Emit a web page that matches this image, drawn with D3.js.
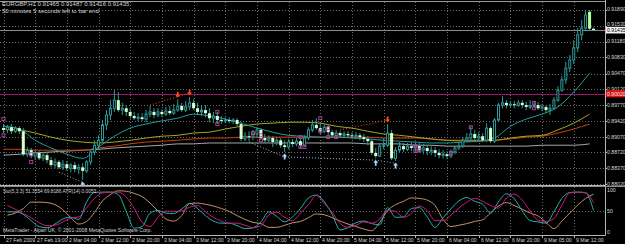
<!DOCTYPE html>
<html><head><meta charset="utf-8">
<script src="https://cdn.jsdelivr.net/npm/d3@7/dist/d3.min.js"></script>
<style>html,body{margin:0;padding:0;background:#000;overflow:hidden}svg{display:block}</style>
</head><body>
<svg id="c" width="625" height="244"></svg>
<script>
// ---------------- DATA ----------------
const symbolTitle = "EURGBP,H1";
const headerQuote = ["0.91465", "0.91487", "0.91416", "0.91435"];
const timerText = "50 minutes 5 seconds left to bar end";
const stochTitle = "Sto(5,3,3) 51.3554 69.8186  ATR(14) 0.0053";
const copyrightText = "MetaTrader - Alpari UK, \u00A9 2001-2008 MetaQuotes Software Corp.";

const open = [0.8926,0.8922,0.8928,0.8919,0.8926,0.8919,0.8868,0.8877,0.8864,0.8871,
0.8859,0.8866,0.8855,0.8844,0.8851,0.8839,0.8846,0.8837,0.8844,0.8835,
0.8839,0.8831,0.8851,0.8873,0.8888,0.8899,0.8933,0.8955,0.8970,0.8988,
0.8966,0.8970,0.8962,0.8953,0.8948,0.8950,0.8946,0.8957,0.8962,0.8955,
0.8962,0.8957,0.8964,0.8959,0.8966,0.8975,0.8966,0.8973,0.8982,0.8970,
0.8962,0.8966,0.8959,0.8948,0.8953,0.8944,0.8942,0.8944,0.8942,0.8944,
0.8935,0.8902,0.8908,0.8906,0.8913,0.8922,0.8904,0.8899,0.8904,0.8895,
0.8899,0.8888,0.8884,0.8895,0.8891,0.8897,0.8888,0.8904,0.8922,0.8933,
0.8926,0.8919,0.8928,0.8917,0.8910,0.8915,0.8910,0.8913,0.8910,0.8908,
0.8910,0.8906,0.8902,0.8897,0.8871,0.8864,0.8886,0.8888,0.8915,0.8859,
0.8877,0.8886,0.8879,0.8886,0.8882,0.8886,0.8877,0.8882,0.8875,0.8877,
0.8871,0.8866,0.8868,0.8864,0.8873,0.8882,0.8886,0.8899,0.8904,0.8913,
0.8904,0.8908,0.8899,0.8926,0.8897,0.8944,0.8977,0.8982,0.8977,0.8979,
0.8977,0.8982,0.8977,0.8973,0.8975,0.8977,0.8970,0.8973,0.8966,0.8970,
0.8988,0.9010,0.9033,0.9059,0.9077,0.9104,0.9133,0.9148,0.9184,0.91465];
const high = [0.8935,0.8933,0.8935,0.8930,0.8930,0.8926,0.8884,0.8882,0.8877,0.8875,
0.8873,0.8871,0.8862,0.8859,0.8855,0.8855,0.8853,0.8848,0.8851,0.8846,
0.8848,0.8855,0.8877,0.8899,0.8910,0.8944,0.8966,0.8988,0.9010,0.9006,
0.8982,0.8977,0.8970,0.8962,0.8959,0.8959,0.8966,0.8975,0.8970,0.8970,
0.8968,0.8973,0.8975,0.8979,0.8990,0.8982,0.8986,0.8995,0.8990,0.8982,
0.8977,0.8977,0.8970,0.8962,0.8962,0.8953,0.8950,0.8950,0.8948,0.8948,
0.8939,0.8917,0.8919,0.8922,0.8928,0.8926,0.8913,0.8910,0.8908,0.8906,
0.8904,0.8899,0.8902,0.8902,0.8904,0.8902,0.8910,0.8928,0.8944,0.8948,
0.8939,0.8935,0.8933,0.8922,0.8922,0.8919,0.8919,0.8919,0.8917,0.8917,
0.8915,0.8913,0.8908,0.8902,0.8882,0.8893,0.8904,0.8935,0.8922,0.8884,
0.8895,0.8893,0.8893,0.8895,0.8895,0.8893,0.8891,0.8888,0.8886,0.8884,
0.8879,0.8877,0.8875,0.8879,0.8886,0.8895,0.8906,0.8915,0.8930,0.8922,
0.8917,0.8915,0.8937,0.8930,0.8948,0.8982,0.8997,0.8988,0.8986,0.8986,
0.8988,0.8988,0.8984,0.8988,0.8986,0.8984,0.8979,0.8977,0.8979,0.8995,
0.9019,0.9041,0.9073,0.9088,0.9121,0.9148,0.9166,0.9188,0.9188,0.91487];
const low = [0.8915,0.8915,0.8913,0.8915,0.8913,0.8864,0.8862,0.8859,0.8855,0.8855,
0.8853,0.8848,0.8839,0.8837,0.8835,0.8833,0.8831,0.8828,0.8828,0.8824,
0.8811,0.8826,0.8844,0.8866,0.8877,0.8893,0.8922,0.8944,0.8962,0.8962,
0.8955,0.8953,0.8948,0.8944,0.8942,0.8942,0.8939,0.8950,0.8948,0.8950,
0.8950,0.8953,0.8955,0.8955,0.8962,0.8962,0.8962,0.8966,0.8966,0.8955,
0.8953,0.8950,0.8939,0.8937,0.8935,0.8935,0.8937,0.8937,0.8935,0.8930,
0.8897,0.8897,0.8897,0.8899,0.8904,0.8899,0.8893,0.8893,0.8884,0.8888,
0.8882,0.8873,0.8879,0.8884,0.8886,0.8882,0.8884,0.8899,0.8917,0.8922,
0.8913,0.8915,0.8910,0.8904,0.8906,0.8904,0.8906,0.8904,0.8902,0.8902,
0.8899,0.8895,0.8888,0.8866,0.8859,0.8862,0.8879,0.8884,0.8855,0.8853,
0.8873,0.8873,0.8875,0.8875,0.8873,0.8871,0.8868,0.8866,0.8866,0.8862,
0.8859,0.8859,0.8857,0.8859,0.8868,0.8877,0.8882,0.8895,0.8899,0.8899,
0.8899,0.8895,0.8895,0.8893,0.8893,0.8939,0.8970,0.8970,0.8973,0.8970,
0.8973,0.8970,0.8966,0.8968,0.8970,0.8966,0.8964,0.8959,0.8955,0.8966,
0.8984,0.9006,0.9024,0.9050,0.9068,0.9095,0.9121,0.9144,0.9141,0.91416];
const close = [0.8922,0.8928,0.8919,0.8926,0.8919,0.8868,0.8877,0.8864,0.8871,0.8859,
0.8866,0.8855,0.8844,0.8851,0.8839,0.8846,0.8837,0.8844,0.8835,0.8839,
0.8831,0.8851,0.8873,0.8888,0.8899,0.8933,0.8955,0.8970,0.8988,0.8966,
0.8970,0.8962,0.8953,0.8948,0.8950,0.8946,0.8957,0.8962,0.8955,0.8962,
0.8957,0.8964,0.8959,0.8966,0.8975,0.8966,0.8973,0.8982,0.8970,0.8962,
0.8966,0.8959,0.8948,0.8953,0.8944,0.8942,0.8944,0.8942,0.8944,0.8935,
0.8902,0.8908,0.8906,0.8913,0.8922,0.8904,0.8899,0.8904,0.8895,0.8899,
0.8888,0.8884,0.8895,0.8891,0.8897,0.8888,0.8904,0.8922,0.8933,0.8926,
0.8919,0.8928,0.8917,0.8910,0.8915,0.8910,0.8913,0.8910,0.8908,0.8910,
0.8906,0.8902,0.8897,0.8871,0.8864,0.8886,0.8888,0.8915,0.8859,0.8877,
0.8886,0.8879,0.8886,0.8882,0.8886,0.8877,0.8882,0.8875,0.8877,0.8871,
0.8866,0.8868,0.8864,0.8873,0.8882,0.8886,0.8899,0.8904,0.8913,0.8904,
0.8908,0.8899,0.8926,0.8897,0.8944,0.8977,0.8982,0.8977,0.8979,0.8977,
0.8982,0.8977,0.8973,0.8975,0.8977,0.8970,0.8973,0.8966,0.8970,0.8988,
0.9010,0.9033,0.9059,0.9077,0.9104,0.9133,0.9148,0.9177,0.91465,0.91435];

// moving averages sampled every 4th bar (bars 0,4,...,148)
const maTeal = [0.8930,0.8924,0.8899,0.8882,0.8868,0.8859,0.8884,0.8908,0.8926,0.8935,0.8942,0.8948,0.8957,0.8953,0.8946,0.8937,0.8926,0.8917,0.8910,0.8908,0.8906,0.8906,0.8904,0.8902,0.8899,0.8897,0.8895,0.8893,0.8893,0.8895,0.8897,0.8904,0.8930,0.8946,0.8957,0.8973,0.9006,0.9048];
const maOlive = [0.8924,0.8922,0.8915,0.8906,0.8899,0.8895,0.8893,0.8895,0.8899,0.8904,0.8908,0.8910,0.8915,0.8917,0.8924,0.8930,0.8935,0.8937,0.8939,0.8939,0.8937,0.8930,0.8926,0.8919,0.8913,0.8910,0.8906,0.8902,0.8899,0.8899,0.8899,0.8899,0.8904,0.8908,0.8910,0.8922,0.8937,0.8957];
const maRed = [0.8879,0.8879,0.8877,0.8877,0.8877,0.8877,0.8882,0.8886,0.8891,0.8895,0.8897,0.8899,0.8902,0.8904,0.8904,0.8906,0.8906,0.8906,0.8906,0.8906,0.8906,0.8906,0.8906,0.8906,0.8904,0.8904,0.8904,0.8902,0.8899,0.8897,0.8897,0.8899,0.8902,0.8906,0.8908,0.8915,0.8924,0.8935];
const maGray = [0.8866,0.8868,0.8871,0.8873,0.8875,0.8877,0.8879,0.8882,0.8884,0.8886,0.8888,0.8891,0.8891,0.8893,0.8893,0.8893,0.8893,0.8893,0.8893,0.8893,0.8893,0.8893,0.8893,0.8891,0.8891,0.8891,0.8888,0.8888,0.8886,0.8886,0.8886,0.8886,0.8886,0.8886,0.8888,0.8888,0.8888,0.8891];

// oscillator window, sampled every 2nd bar (bars 1,3,...,149)
const stochMain = [48,48,42,27,13,10,19,31,35,30,72,94,95,95,89,49,9,13,45,51,45,44,55,68,56,39,26,21,21,15,8,10,24,48,37,24,36,56,81,88,72,42,5,11,22,26,20,17,58,35,36,56,58,36,11,34,55,74,82,73,66,45,72,91,79,50,27,24,21,48,80,94,95,93,51.36];
const stochSignal = [63,54,44,34,22,15,16,24,33,36,58,80,93,95,95,83,56,23,13,35,50,49,50,59,63,48,35,26,21,21,16,10,15,41,47,35,27,45,65,87,68,47,20,11,16,24,21,31,52,49,35,44,62,51,27,27,40,57,71,80,73,63,57,81,90,76,50,28,25,32,64,93,95,94,69.82];
const atr = [0.00348,0.00367,0.00407,0.00463,0.00463,0.00459,0.00441,0.00396,0.00326,0.00270,0.00293,0.00374,0.00474,0.00529,0.00563,0.00559,0.00540,0.00511,0.00455,0.00385,0.00315,0.00296,0.00344,0.00452,0.00455,0.00444,0.00429,0.00407,0.00381,0.00344,0.00311,0.00285,0.00274,0.00241,0.00241,0.00259,0.00281,0.00293,0.00326,0.00359,0.00352,0.00326,0.00296,0.00270,0.00248,0.00226,0.00211,0.00285,0.00389,0.00441,0.00470,0.00500,0.00496,0.00481,0.00433,0.00311,0.00248,0.00259,0.00274,0.00293,0.00307,0.00370,0.00429,0.00459,0.00433,0.00400,0.00367,0.00341,0.00285,0.00230,0.00296,0.00367,0.00437,0.00496,0.00533];

const timeLabels = ["27 Feb 2009","27 Feb 19:00","2 Mar 04:00","2 Mar 12:00","2 Mar 20:00","3 Mar 04:00","3 Mar 12:00","3 Mar 20:00","4 Mar 04:00","4 Mar 12:00","4 Mar 20:00","5 Mar 04:00","5 Mar 12:00","5 Mar 20:00","6 Mar 04:00","6 Mar 12:00","6 Mar 20:00","9 Mar 05:00","9 Mar 12:00"];
const priceTickLabels = ["0.91890","0.91530","0.91180","0.90830","0.90470","0.90120","0.89770","0.89420","0.89070","0.88720","0.88370","0.88020"];
const oscTickLabels = ["100","50","0"];
const currentPriceLabel = "0.91435";
const levelLineLabel = "0.90020";

// fractal-style arrows (bar index) and dotted trend lines
const upperArrowBars = [44, 47, 97];
const lowerArrowBars = [20, 71, 94, 99];
const redTrendBars = [[37, 47], [85, 97]];
const redTrendPrices = [[0.8977, 0.9004], [0.8922, 0.8944]];
const grayTrendBars = [[14, 20], [62, 71, 94, 99]];
const grayTrendPrices = [[0.8828, 0.8806], [0.8895, 0.8862, 0.8855, 0.8848]];
const squareBars = [0,0,7,7,54,54,63,65,65,75,75,76,80,80,82,82,84,104,104,105,113,118,134,134];
const squarePrices = [0.8946,0.8910,0.8868,0.8851,0.8962,0.8935,0.8915,0.8910,0.8899,0.8906,0.8884,0.8884,0.8948,0.8919,0.8926,0.8906,0.8906,0.8886,0.8875,0.8877,0.8871,0.8928,0.8982,0.8970];

// ---------------- LAYOUT ----------------
const W = 625, H = 244;
const plotR = 605;
const mainBottom = 185, subTop = 187, subBottom = 235;
const font = "'Liberation Sans', Arial, sans-serif";
const txt = "#d4d4d4";
const gridColor = "#6a6a6a";

const svg = d3.select("#c");
svg.append("rect").attr("width", W).attr("height", H).attr("fill", "#000");

const n = open.length;
const x = d3.scaleLinear().domain([0, n - 1]).range([3.5, 3.5 + 3.96 * (n - 1)]);
const y = d3.scaleLinear().domain([0.8802, 0.9188]).range([184, 10]);
const yo = d3.scaleLinear().domain([0, 100]).range([232, 190]);
const ya = d3.scaleLinear().domain([0.0020, 0.0057]).range([232, 190]);

const timeTickBars = d3.range(0, n, 8).slice(0, timeLabels.length);

const mclip = svg.append("clipPath").attr("id", "mc");
mclip.append("rect").attr("x", 0).attr("y", 0).attr("width", plotR).attr("height", mainBottom);
const sclip = svg.append("clipPath").attr("id", "sc");
sclip.append("rect").attr("x", 0).attr("y", subTop).attr("width", plotR).attr("height", subBottom - subTop);

// grid
const grid = svg.append("g").attr("stroke", gridColor).attr("stroke-width", 1).attr("stroke-dasharray", "1,2");
timeTickBars.forEach(b => {
  const xx = Math.round(x(b)) + 0.5;
  grid.append("line").attr("x1", xx).attr("x2", xx).attr("y1", 2).attr("y2", mainBottom);
  grid.append("line").attr("x1", xx).attr("x2", xx).attr("y1", subTop).attr("y2", subBottom);
});
priceTickLabels.forEach(s => {
  const yy = Math.round(y(+s)) + 0.5;
  grid.append("line").attr("x1", 0).attr("x2", plotR).attr("y1", yy).attr("y2", yy);
});
grid.append("line").attr("x1", 0).attr("x2", plotR).attr("y1", Math.round(yo(50)) + 0.5).attr("y2", Math.round(yo(50)) + 0.5);

// horizontal lines
const mg = svg.append("g").attr("clip-path", "url(#mc)");
mg.append("line").attr("x1", 0).attr("x2", plotR).attr("y1", 1.5).attr("y2", 1.5).attr("stroke", "#9a9a9a");
mg.append("line").attr("x1", 0).attr("x2", plotR).attr("y1", Math.round(y(+currentPriceLabel)) + 0.5).attr("y2", Math.round(y(+currentPriceLabel)) + 0.5).attr("stroke", "#8a8a8a");
mg.append("line").attr("x1", 0).attr("x2", plotR).attr("y1", Math.round(y(+levelLineLabel)) + 0.5).attr("y2", Math.round(y(+levelLineLabel)) + 0.5).attr("stroke", "#a3136d").attr("stroke-width", 1);

// moving averages
const maBars = d3.range(0, n, 4).slice(0, maTeal.length);
const maLine = d3.line().x((d, i) => x(maBars[i])).y(d => y(d)).curve(d3.curveMonotoneX);
[[maGray, "#a8a8a8"], [maRed, "#c8400c"], [maOlive, "#a6a622"], [maTeal, "#1f9e9e"]].forEach(([arr, c]) => {
  mg.append("path").attr("d", maLine(arr)).attr("fill", "none").attr("stroke", c).attr("stroke-width", 1);
});

// candles
const cg = mg.append("g");
const wickColor = "#2e9a9a";
for (let i = 0; i < n; i++) {
  const cx = x(i);
  const bull = close[i] >= open[i];
  cg.append("line").attr("x1", cx).attr("x2", cx).attr("y1", y(high[i])).attr("y2", y(low[i]))
    .attr("stroke", wickColor).attr("stroke-width", 1);
  const top = y(Math.max(open[i], close[i])), bot = y(Math.min(open[i], close[i]));
  const h = Math.max(1, bot - top);
  if (bull) {
    cg.append("rect").attr("x", cx - 1).attr("y", top).attr("width", 2).attr("height", h)
      .attr("fill", "#000").attr("stroke", wickColor).attr("stroke-width", 1);
  } else {
    cg.append("rect").attr("x", cx - 1.5).attr("y", top).attr("width", 3).attr("height", h)
      .attr("fill", i === n - 2 ? "#b8ff9a" : "#d8ffcc");
  }
}

// dotted trend lines
const tl = d3.line().x(d => x(d[0])).y(d => y(d[1]));
redTrendBars.forEach((bars, k) => {
  mg.append("path").attr("d", tl(bars.map((b, j) => [b, redTrendPrices[k][j]])))
    .attr("fill", "none").attr("stroke", "#ff4a1a").attr("stroke-dasharray", "1,2");
});
grayTrendBars.forEach((bars, k) => {
  mg.append("path").attr("d", tl(bars.map((b, j) => [b, grayTrendPrices[k][j]])))
    .attr("fill", "none").attr("stroke", "#9fb0c0").attr("stroke-dasharray", "1,2");
});

// squares
squareBars.forEach((b, k) => {
  mg.append("rect").attr("x", x(b) - 1.5).attr("y", y(squarePrices[k]) - 1.5).attr("width", 3).attr("height", 3)
    .attr("fill", "none").attr("stroke", "#b4449e").attr("stroke-width", 0.9);
});

// arrows
upperArrowBars.forEach(b => {
  const cx = x(b), ty = y(high[b]) - 1.5;
  mg.append("path").attr("d", `M${cx},${ty} l-2.5,-3 h1.6 v-3 h1.8 v3 h1.6 Z`).attr("fill", "#ff4a12");
});
lowerArrowBars.forEach(b => {
  const cx = x(b), ty = y(low[b]) + 1.5;
  mg.append("path").attr("d", `M${cx},${ty} l-2.5,3 h1.6 v3 h1.8 v-3 h1.6 Z`).attr("fill", "#a8d8f4");
});

// oscillator window
const sg = svg.append("g").attr("clip-path", "url(#sc)");
const oscBars = d3.range(1, n + 1, 2).slice(0, stochMain.length);
const oLine = d3.line().x((d, i) => x(oscBars[i])).y(d => yo(d)).curve(d3.curveMonotoneX);
const aLine = d3.line().x((d, i) => x(oscBars[i])).y(d => ya(d)).curve(d3.curveMonotoneX);
sg.append("path").attr("d", aLine(atr)).attr("fill", "none").attr("stroke", "#c4926c").attr("stroke-width", 1);
sg.append("path").attr("d", oLine(stochMain)).attr("fill", "none").attr("stroke", "#22b4b0").attr("stroke-width", 1);
sg.append("path").attr("d", oLine(stochSignal)).attr("fill", "none").attr("stroke", "#d4187a").attr("stroke-width", 1);

// frames
const fr = svg.append("g").attr("stroke", "#b4b4b4").attr("stroke-width", 1);
fr.append("line").attr("x1", plotR + 0.5).attr("x2", plotR + 0.5).attr("y1", 0).attr("y2", subBottom + 0.5);
fr.append("line").attr("x1", 0).attr("x2", plotR + 0.5).attr("y1", mainBottom + 0.5).attr("y2", mainBottom + 0.5);
fr.append("line").attr("x1", 0).attr("x2", W).attr("y1", mainBottom + 1.5).attr("y2", mainBottom + 1.5).attr("stroke", "#8c8c8c");
fr.append("line").attr("x1", 0).attr("x2", plotR + 0.5).attr("y1", subBottom + 0.5).attr("y2", subBottom + 0.5);

// price axis
const axFont = 5.2;
const ax = svg.append("g").attr("font-family", font).attr("font-size", axFont).attr("fill", txt);
const cy = y(+currentPriceLabel);
priceTickLabels.forEach(s => {
  const yy = y(+s);
  svg.append("line").attr("x1", plotR).attr("x2", plotR + 2).attr("y1", Math.round(yy) + 0.5).attr("y2", Math.round(yy) + 0.5).attr("stroke", "#b4b4b4");
  // the highlighted current-price tag sits over a neighbouring label: nudge it away
  const nudge = Math.abs(yy - cy) < 6 ? (yy < cy ? -1.8 : 1.8) : 0;
  ax.append("text").attr("x", 607).attr("y", yy + 1.9 + nudge).text(s);
});
// highlighted labels
svg.append("rect").attr("x", 606).attr("y", cy - 3.2).attr("width", 19).attr("height", 6.6).attr("fill", "#f4f4f4");
svg.append("text").attr("x", 607).attr("y", cy + 1.9).attr("font-family", font).attr("font-size", axFont).attr("fill", "#000").text(currentPriceLabel);
const ly = y(+levelLineLabel);
svg.append("rect").attr("x", 606).attr("y", ly - 3.5).attr("width", 19).attr("height", 7).attr("fill", "#e01010");
svg.append("text").attr("x", 607).attr("y", ly + 1.9).attr("font-family", font).attr("font-size", axFont).attr("fill", "#ffe0e0").text(levelLineLabel);

// oscillator axis
oscTickLabels.forEach(s => {
  const yy = yo(+s);
  ax.append("text").attr("x", 607).attr("y", yy + 1.9).text(s);
});

// time axis
timeTickBars.forEach((b, k) => {
  const xx = Math.round(x(b)) + 0.5;
  svg.append("line").attr("x1", xx).attr("x2", xx).attr("y1", subBottom).attr("y2", subBottom + 3).attr("stroke", "#b4b4b4");
  ax.append("text").attr("x", xx + 1.5).attr("y", 242).text(timeLabels[k]);
});

// texts
const tg = svg.append("g").attr("font-family", font).attr("fill", txt);
tg.append("text").attr("x", 2).attr("y", 6).attr("font-size", 6).text(symbolTitle + "  " + headerQuote.join(" "));
tg.append("text").attr("x", 2).attr("y", 12.5).attr("font-size", 6).text(timerText);
tg.append("text").attr("x", 3).attr("y", 193).attr("font-size", 4.8).text(stochTitle);
tg.append("text").attr("x", 3).attr("y", 231.5).attr("font-size", 5.1).text(copyrightText);
</script>
</body></html>
